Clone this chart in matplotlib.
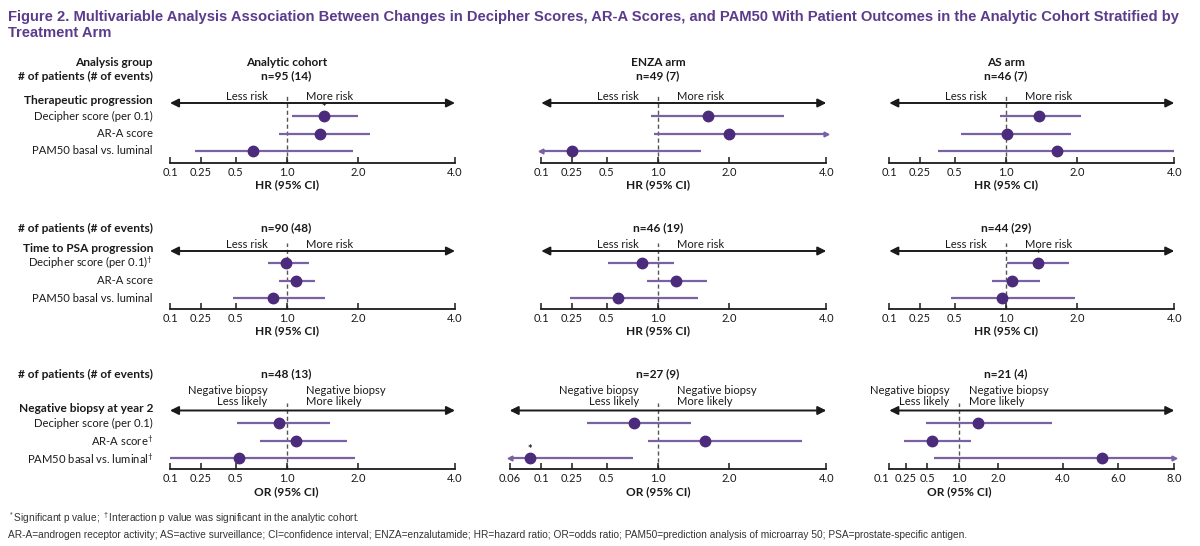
import numpy as np
import matplotlib.pyplot as plt

plt.rcParams['font.family'] = ['Lato', 'DejaVu Sans']
plt.rcParams['mathtext.default'] = 'regular'

# ---- data ----
arms = ["Analytic cohort", "ENZA arm", "AS arm"]
outcomes = ["Therapeutic progression", "Time to PSA progression", "Negative biopsy at year 2"]
variables = ["Decipher score (per 0.1)", "AR-A score", "PAM50 basal vs. luminal"]
n_events = [["n=95 (14)", "n=49 (7)", "n=46 (7)"],
            ["n=90 (48)", "n=46 (19)", "n=44 (29)"],
            ["n=48 (13)", "n=27 (9)", "n=21 (4)"]]
# dagger after variable label (interaction p significant), per outcome
daggers = [[False, False, False],
           [True, False, False],
           [False, True, True]]
ratio_label = ["HR (95% CI)", "HR (95% CI)", "OR (95% CI)"]
effect_left = ["Less risk", "Less risk", "Negative biopsy\nLess likely"]
effect_right = ["More risk", "More risk", "Negative biopsy\nMore likely"]

# estimates [outcome][arm][variable]
est = [[[1.52, 1.47, 0.67], [1.70, 2.00, 0.25], [1.46, 1.01, 1.71]],
       [[0.99, 1.13, 0.87], [0.84, 1.26, 0.61], [1.45, 1.09, 0.96]],
       [[0.93, 1.13, 0.53], [0.77, 1.66, 0.086], [1.48, 0.57, 5.42]]]
ci_low = [[[1.07, 0.93, 0.22], [0.93, 0.96, 0.10], [0.94, 0.56, 0.38]],
          [[0.82, 0.93, 0.48], [0.51, 0.89, 0.24], [1.02, 0.86, 0.47]],
          [[0.51, 0.74, 0.10], [0.36, 0.90, 0.06], [0.48, 0.23, 0.61]]]
ci_high = [[[2.00, 2.25, 1.93], [3.12, 4.00, 1.60], [2.07, 1.91, 4.00]],
           [[1.31, 1.40, 1.54], [1.23, 1.68, 1.56], [1.88, 1.48, 1.96]],
           [[1.61, 1.84, 1.96], [1.47, 3.49, 0.76], [3.68, 1.30, 8.00]]]
# (outcome, arm, variable) with significant p value
significant = [(0, 0, 0), (1, 2, 0), (2, 1, 2)]
# CI running off the axis: (outcome, arm, variable, side)
clipped = [(0, 1, 1, 'right'), (0, 1, 2, 'left'), (2, 1, 2, 'left'), (2, 2, 2, 'right')]

std_ticks = [0.1, 0.25, 0.5, 1.0, 2.0, 4.0]
tick_values = [[std_ticks, std_ticks, std_ticks],
               [std_ticks, std_ticks, std_ticks],
               [std_ticks, [0.06, 0.1, 0.25, 0.5, 1.0, 2.0, 4.0],
                [0.1, 0.25, 0.5, 1.0, 2.0, 4.0, 6.0, 8.0]]]

# ---- layout (the axes use an uneven, piecewise scale) ----
std_pos = [0, 0.108, 0.23, 0.409, 0.66, 1.0]
tick_positions = [[std_pos, std_pos, std_pos],
                  [std_pos, std_pos, std_pos],
                  [std_pos, [-0.111, 0, 0.108, 0.23, 0.409, 0.66, 1.0],
                   [0, 0.059, 0.133, 0.245, 0.381, 0.609, 0.803, 1.0]]]

W, H = 1200, 546
col_left = [170, 541.3, 889.3]
col_width = 285
first_row = [116, 263, 423.3]
arrow_y = [103, 251, 410.5]
axis_y = [162.5, 308.5, 469]
n_y = [76, 228, 374]
row_step = 17.5
label_right = 153
text_lift = [1.5, 1.5, 3.5]

PURPLE = '#5b3b8c'
CI_COLOR = '#7a61a3'
DOT_COLOR = '#4b2b7b'
INK = '#1a1a1a'
FS = 8.1      # regular text
FS_B = 8.6    # bold headers

fig = plt.figure(figsize=(W / 100, H / 100), dpi=100)


def px(x, y):
    return x / W, 1 - y / H


def tick_text(v):
    return f"{v:.1f}" if v >= 1 else f"{v:g}"


for i in range(len(outcomes)):
    for j in range(len(arms)):
        vals = tick_values[i][j]
        pos = tick_positions[i][j]
        left = col_left[j] + pos[0] * col_width
        right = col_left[j] + pos[-1] * col_width
        ax = fig.add_axes([left / W, 1 - axis_y[i] / H, (right - left) / W,
                           (axis_y[i] - arrow_y[i]) / H])
        fwd = lambda v, vals=vals, pos=pos: np.interp(v, vals, pos)
        inv = lambda p, vals=vals, pos=pos: np.interp(p, pos, vals)
        ax.set_xscale('function', functions=(fwd, inv))
        ax.set_xlim(vals[0], vals[-1])
        y_top = (arrow_y[i] - first_row[i]) / row_step
        y_bot = (axis_y[i] - first_row[i]) / row_step
        ax.set_ylim(y_bot, y_top)
        ax.patch.set_alpha(0)

        for s in ['top', 'left', 'right']:
            ax.spines[s].set_visible(False)
        ax.spines['bottom'].set_linewidth(1.3)
        ax.spines['bottom'].set_color(INK)
        ax.set_yticks([])
        ax.set_xticks(vals)
        ax.set_xticklabels([tick_text(v) for v in vals])
        ax.tick_params(axis='x', direction='in', length=4, width=1.1, pad=3,
                       labelsize=8, colors=INK)
        ax.minorticks_off()
        if (i, j) == (2, 2):
            # crowded low end: first label sits left of its tick
            ax.get_xticklabels()[0].set_horizontalalignment('right')

        # reference line at 1.0
        ax.plot([1.0, 1.0], [y_bot, y_top - 0.45], ls=(0, (3, 2)), color='#555555',
                lw=1, clip_on=False, zorder=1)
        # double arrow
        ax.annotate('', xy=(1, 1), xytext=(0, 1), xycoords='axes fraction',
                    arrowprops=dict(arrowstyle='<|-|>,head_length=0.5,head_width=0.25',
                                    color=INK, lw=1.4, shrinkA=0, shrinkB=0,
                                    mutation_scale=10),
                    annotation_clip=False)

        gap = 10 if (i, j) == (2, 2) else 19
        ax.annotate(effect_left[i], xy=(1.0, 1), xycoords=('data', 'axes fraction'),
                    xytext=(-gap * 0.72, text_lift[i] * 0.72), textcoords='offset points',
                    ha='right', va='bottom', fontsize=FS, multialignment='right',
                    linespacing=1.0, color=INK)
        ax.annotate(effect_right[i], xy=(1.0, 1), xycoords=('data', 'axes fraction'),
                    xytext=(gap * 0.72, text_lift[i] * 0.72), textcoords='offset points',
                    ha='left', va='bottom', fontsize=FS, multialignment='left',
                    linespacing=1.0, color=INK)

        ys = np.arange(len(variables))
        ax.hlines(ys, ci_low[i][j], ci_high[i][j], color=CI_COLOR, lw=1.6, zorder=2)
        ax.plot(est[i][j], ys, 'o', ms=7.5, color=DOT_COLOR, zorder=3, clip_on=False)

        for (a, b, k) in significant:
            if (a, b) == (i, j):
                ax.text(est[i][j][k], k - 0.5, '*', ha='center', va='center',
                        fontsize=8, fontweight='bold', color=INK)
        for (a, b, k, side) in clipped:
            if (a, b) == (i, j):
                x = ci_low[i][j][k] if side == 'left' else ci_high[i][j][k]
                ax.plot(x, k, marker='<' if side == 'left' else '>', ms=3.5,
                        color=CI_COLOR, clip_on=False, zorder=2)

        ax.annotate(ratio_label[i], xy=(1.0, 0), xycoords=('data', 'axes fraction'),
                    xytext=(0, -22.5 * 0.72), textcoords='offset points',
                    ha='center', va='center', fontsize=FS_B, fontweight='bold', color=INK)

        cx = col_left[j] + std_pos[3] * col_width
        if i == 0:
            fig.text(*px(cx, 63), arms[j], ha='center', va='center', fontsize=FS_B,
                     fontweight='bold', color=INK)
        fig.text(*px(cx, n_y[i]), n_events[i][j], ha='center', va='center',
                 fontsize=FS_B, fontweight='bold', color=INK)

    # left label column
    if i == 0:
        fig.text(*px(label_right, 63), "Analysis group", ha='right', va='center',
                 fontsize=FS_B, fontweight='bold', color=INK)
    fig.text(*px(label_right, n_y[i]), "# of patients (# of events)", ha='right',
             va='center', fontsize=FS_B, fontweight='bold', color=INK)
    fig.text(*px(label_right, arrow_y[i] - 2), outcomes[i], ha='right', va='center',
             fontsize=FS_B, fontweight='bold', color=INK)
    for k, name in enumerate(variables):
        label = name + (r'$^{\dagger}$' if daggers[i][k] else '')
        fig.text(*px(label_right, first_row[i] + k * row_step), label, ha='right',
                 va='center', fontsize=FS, color=INK)

# title
fig.text(*px(8, 17.5), "Figure 2. Multivariable Analysis Association Between Changes in "
         "Decipher Scores, AR-A Scores, and PAM50 With Patient Outcomes in the Analytic "
         "Cohort Stratified by", family='Liberation Sans', fontweight='bold', fontsize=10.65,
         color=PURPLE, va='center')
fig.text(*px(8, 33), "Treatment Arm", family='Liberation Sans', fontweight='bold',
         fontsize=10.65, color=PURPLE, va='center')

# footnotes
fig.text(*px(8, 518), r"$^*$Significant p value; $^\dagger$Interaction p value was "
         "significant in the analytic cohort.", family='Liberation Sans', fontsize=7.3,
         color='#333333', va='center')
fig.text(*px(8, 535.5), "AR-A=androgen receptor activity; AS=active surveillance; "
         "CI=confidence interval; ENZA=enzalutamide; HR=hazard ratio; OR=odds ratio; "
         "PAM50=prediction analysis of microarray 50; PSA=prostate-specific antigen.",
         family='Liberation Sans', fontsize=7.3, color='#333333', va='center')

fig.savefig('out.png', dpi=100)
